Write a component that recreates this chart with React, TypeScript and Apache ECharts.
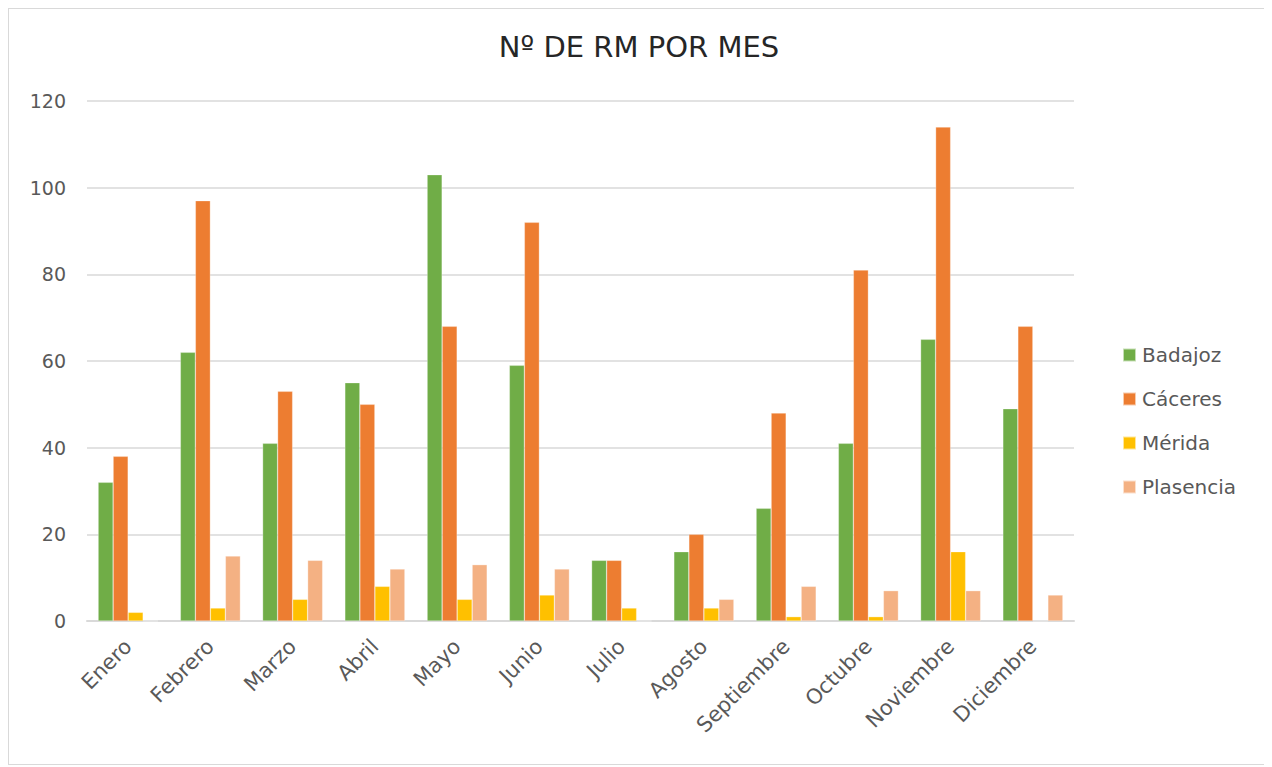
import React, { useEffect, useRef } from "react";
import * as echarts from "echarts";

const months = ["Enero", "Febrero", "Marzo", "Abril", "Mayo", "Junio", "Julio", "Agosto", "Septiembre", "Octubre", "Noviembre", "Diciembre"];
const badajoz = [32, 62, 41, 55, 103, 59, 14, 16, 26, 41, 65, 49];
const caceres = [38, 97, 53, 50, 68, 92, 14, 20, 48, 81, 114, 68];
const merida = [2, 3, 5, 8, 5, 6, 3, 3, 1, 1, 16, 0];
const plasencia = [0, 15, 14, 12, 13, 12, 0, 5, 8, 7, 7, 6];

const FONT = "'DejaVu Sans', sans-serif";

export default function App() {
  const ref = useRef<HTMLDivElement>(null);
  useEffect(() => {
    if (!ref.current) return;
    const chart = echarts.init(ref.current, undefined, { renderer: "svg" });
    const mk = (name: string, data: number[], color: string) => ({
      name,
      type: "bar",
      data,
      barGap: "0%",
      barCategoryGap: "27%",
      itemStyle: { color, borderColor: "rgba(255,255,255,0.6)", borderWidth: 0.5 },
    });
    chart.setOption({
      animation: false,
      textStyle: { fontFamily: FONT },
      title: {
        text: "Nº DE RM POR MES",
        left: "center",
        top: 18,
        textStyle: { fontFamily: FONT, fontSize: 29, fontWeight: "normal", color: "#262626" },
      },
      legend: {
        orient: "vertical",
        left: 1108,
        top: 331,
        itemWidth: 13,
        itemHeight: 13,
        itemGap: 24,
        icon: "rect",
        textStyle: { fontFamily: FONT, fontSize: 20, color: "#595959", padding: [0, 0, 0, 1] },
        data: ["Badajoz", "Cáceres", "Mérida", "Plasencia"],
      },
      grid: { left: 78, right: 195, top: 92, bottom: 143 },
      xAxis: {
        type: "category",
        data: months,
        axisLine: { lineStyle: { color: "#d9d9d9", width: 2 } },
        axisTick: { show: false },
        axisLabel: { rotate: 45, fontFamily: FONT, fontSize: 21, color: "#595959", margin: 22 },
      },
      yAxis: {
        type: "value",
        min: 0,
        max: 120,
        interval: 20,
        axisLine: { show: false },
        axisTick: { show: false },
        splitLine: { lineStyle: { color: "#d9d9d9", width: 1.5 } },
        axisLabel: { fontFamily: FONT, fontSize: 19, color: "#595959", margin: 21 },
      },
      series: [
        mk("Badajoz", badajoz, "#70ad47"),
        mk("Cáceres", caceres, "#ed7d31"),
        mk("Mérida", merida, "#ffc000"),
        mk("Plasencia", plasencia, "#f4b183"),
      ],
    });
    return () => chart.dispose();
  }, []);
  return (
    <div
      ref={ref}
      style={{ width: 1262, height: 757, border: "1px solid #d9d9d9", boxSizing: "border-box", background: "#fff" }}
    />
  );
}
